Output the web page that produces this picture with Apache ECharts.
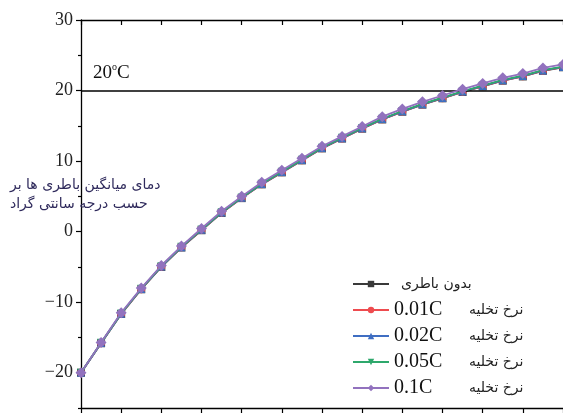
<!DOCTYPE html>
<html>
<head>
<meta charset="utf-8">
<script src="https://cdn.jsdelivr.net/npm/echarts@6/dist/echarts.min.js"></script>
<style>
html,body{margin:0;padding:0;background:#fff;}
#main{width:563px;height:414px;}
</style>
</head>
<body>
<div id="main"></div>
<script>
// زمان (محور افقی) - هر نیم واحد یک نقطه
var xs = [0,0.5,1,1.5,2,2.5,3,3.5,4,4.5,5,5.5,6,6.5,7,7.5,8,8.5,9,9.5,10,10.5,11,11.5,12]
var yTicks = [-20,-10,0,10,20,30]
var yMinorTicks = [-25,-15,-5,5,15,25]

var noBattery = [-20.0,-15.82,-11.67,-8.17,-5.0,-2.25,0.2,2.65,4.75,6.7,8.4,10.1,11.8,13.2,14.6,15.9,17.0,18.0,18.9,19.8,20.6,21.4,22.0,22.8,23.3]
var rate001 = [-20.0,-15.8,-11.65,-8.15,-4.97,-2.22,0.22,2.67,4.77,6.72,8.42,10.12,11.82,13.22,14.62,15.92,17.02,18.02,18.92,19.82,20.62,21.42,22.02,22.82,23.32]
var rate002 = [-20.0,-15.78,-11.63,-8.13,-4.95,-2.2,0.25,2.7,4.8,6.75,8.45,10.15,11.85,13.25,14.65,15.95,17.05,18.05,18.95,19.85,20.65,21.45,22.05,22.85,23.35]
var rate005 = [-20.0,-15.75,-11.6,-8.1,-4.9,-2.15,0.3,2.75,4.85,6.8,8.5,10.2,11.9,13.3,14.7,16.0,17.1,18.1,19.0,19.9,20.7,21.5,22.1,22.9,23.4]
var rate01 = [-20.0,-15.7,-11.5,-8.0,-4.8,-2.05,0.45,2.9,5.0,7.0,8.7,10.4,12.1,13.5,14.9,16.3,17.4,18.4,19.3,20.2,21.0,21.8,22.4,23.2,23.7]

var rates = ['', '0.01C', '0.02C', '0.05C', '0.1C']
var names = ['بدون باطری', '0.01C نرخ تخلیه', '0.02C نرخ تخلیه', '0.05C نرخ تخلیه', '0.1C نرخ تخلیه']
var allData = [noBattery, rate001, rate002, rate005, rate01]
var colors = ['#3a3a3a', '#ee4b4f', '#3f6ec2', '#2ea86c', '#9272be']
var symbols = ['rect', 'circle', 'triangle', 'triangle', 'diamond']

var serif = 'Liberation Serif'
var fa = 'DejaVu Sans'

function pairs(d){
	var out = []
	for (var i = 0; i < xs.length; i++) out.push([xs[i], d[i]])
	return out
}

var series = []
for (var i = 0; i < names.length; i++) {
	var s = {
		name: names[i],
		type: 'line',
		data: pairs(allData[i]),
		symbol: symbols[i],
		symbolSize: i == 4 ? 11 : 8,
		symbolRotate: i == 3 ? 180 : 0,
		lineStyle: {color: colors[i], width: 1.8},
		itemStyle: {color: colors[i]},
		z: 2 + i
	}
	if (i == 0) {
		// خط 20 درجه
		s.markLine = {
			silent: true,
			symbol: 'none',
			lineStyle: {color: '#000', width: 1.5, type: 'solid'},
			label: {
				position: 'insideStartTop',
				distance: [12, 8],
				formatter: '{a|20}{s|o}{a|C}',
				rich: {
					a: {fontFamily: serif, fontSize: 19, color: '#111', lineHeight: 20},
					s: {fontFamily: serif, fontSize: 10, color: '#111', verticalAlign: 'top', lineHeight: 20, padding: [0, 0, 8, 0]}
				}
			},
			data: [{yAxis: 20}]
		}
	}
	series.push(s)
}

var chart = echarts.init(document.getElementById('main'))
var option = {
	animation: false,
	title: {
		text: 'دمای میانگین باطری ها بر\nحسب درجه سانتی گراد',
		left: 10,
		top: 176,
		padding: 0,
		textStyle: {fontFamily: fa, fontSize: 14, fontWeight: 'normal', color: '#2f2a5c', lineHeight: 19}
	},
	grid: {left: 81, top: 20, width: 488, bottom: 6},
	legend: {
		orient: 'vertical',
		left: 347,
		top: 269,
		itemWidth: 36,
		itemHeight: 8,
		itemGap: 6,
		data: names,
		formatter: function (name) {
			var k = names.indexOf(name)
			if (k == 0) return '{p0|' + name + '}'
			return '{n|' + rates[k] + '}{p|نرخ تخلیه}'
		},
		textStyle: {
			lineHeight: 20,
			rich: {
				p0: {fontFamily: fa, fontSize: 14, color: '#222', padding: [0, 0, 0, 7], lineHeight: 20},
				n: {fontFamily: serif, fontSize: 20, color: '#111', width: 75, lineHeight: 20},
				p: {fontFamily: fa, fontSize: 14, color: '#222', lineHeight: 20}
			}
		}
	},
	xAxis: [{
		type: 'value',
		min: 0,
		max: 12,
		interval: 1,
		position: 'bottom',
		axisLine: {show: true, onZero: false, lineStyle: {color: '#000', width: 1.3}},
		axisTick: {show: true, length: 5, lineStyle: {color: '#000', width: 1.2}},
		axisLabel: {show: false},
		splitLine: {show: false}
	}, {
		type: 'value',
		min: 0,
		max: 12,
		interval: 1,
		position: 'top',
		axisLine: {show: true, onZero: false, lineStyle: {color: '#000', width: 1.3}},
		axisTick: {show: true, inside: true, length: 5, lineStyle: {color: '#000', width: 1.2}},
		axisLabel: {show: false},
		splitLine: {show: false}
	}],
	yAxis: [{
		type: 'value',
		min: -25,
		max: 30,
		position: 'left',
		axisLine: {show: true, onZero: false, lineStyle: {color: '#000', width: 1.3}},
		axisTick: {show: true, length: 5, customValues: yTicks, lineStyle: {color: '#000', width: 1.2}},
		axisLabel: {
			customValues: yTicks,
			margin: 8,
			fontFamily: serif,
			fontSize: 18,
			color: '#222',
			formatter: function (v) { return String(v).replace('-', '\u2212') }
		},
		splitLine: {show: false}
	}, {
		// تیک های فرعی
		type: 'value',
		min: -25,
		max: 30,
		position: 'left',
		axisLine: {show: false, onZero: false},
		axisTick: {show: true, length: 3, customValues: yMinorTicks, lineStyle: {color: '#000', width: 1.2}},
		axisLabel: {show: false},
		splitLine: {show: false}
	}],
	series: series
}
chart.setOption(option)
</script>
</body>
</html>
